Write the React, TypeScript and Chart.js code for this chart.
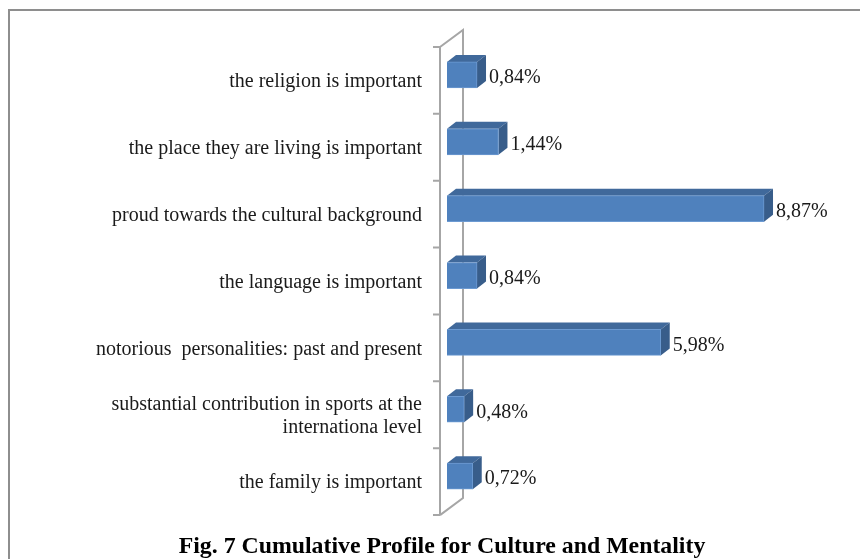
import React, { useEffect, useRef } from "react";
import { Chart, registerables } from "chart.js";

Chart.register(...registerables);

const categories: (string | string[])[] = [
  "the religion is important",
  "the place they are living is important",
  "proud towards the cultural background",
  "the language is important",
  "notorious  personalities: past and present",
  ["substantial contribution in sports at the", "internationa level"],
  "the family is important",
];
const values = [0.84, 1.44, 8.87, 0.84, 5.98, 0.48, 0.72];
const titleText = "Fig. 7 Cumulative Profile for Culture and Mentality";

const SERIF = '"Liberation Serif", "Times New Roman", serif';
const DX = 9;
const DY = 7;

const decorations = {
  id: "decorations",
  beforeDatasetsDraw(chart: any) {
    const { ctx, chartArea } = chart;
    ctx.save();
    // page frame
    ctx.strokeStyle = "#8e8e8e";
    ctx.lineWidth = 2;
    ctx.beginPath();
    ctx.moveTo(9, 559);
    ctx.lineTo(9, 10);
    ctx.lineTo(chart.width, 10);
    ctx.stroke();
    // 3D wall
    const fx = 440;
    const bx = 463;
    const top = chartArea.top + 5.5;
    const bottom = chartArea.bottom + 5.5;
    ctx.strokeStyle = "#a6a6a6";
    ctx.lineWidth = 2;
    ctx.beginPath();
    ctx.moveTo(fx, top);
    ctx.lineTo(fx, bottom);
    ctx.moveTo(fx, top);
    ctx.lineTo(bx, top - 17);
    ctx.lineTo(bx, bottom - 17);
    ctx.lineTo(fx, bottom);
    const n = categories.length;
    for (let i = 0; i <= n; i++) {
      const y = top + ((bottom - top) * i) / n;
      ctx.moveTo(fx - 7, y);
      ctx.lineTo(fx, y);
    }
    ctx.stroke();
    // bar depth faces
    const meta = chart.getDatasetMeta(0);
    meta.data.forEach((bar: any) => {
      const x0 = bar.base;
      const x1 = bar.x;
      const y0 = bar.y - bar.height / 2;
      const y1 = bar.y + bar.height / 2;
      ctx.fillStyle = "#40699b";
      ctx.beginPath();
      ctx.moveTo(x0, y0);
      ctx.lineTo(x0 + DX, y0 - DY);
      ctx.lineTo(x1 + DX, y0 - DY);
      ctx.lineTo(x1, y0);
      ctx.closePath();
      ctx.fill();
      ctx.fillStyle = "#385d8a";
      ctx.beginPath();
      ctx.moveTo(x1, y0);
      ctx.lineTo(x1 + DX, y0 - DY);
      ctx.lineTo(x1 + DX, y1 - DY);
      ctx.lineTo(x1, y1);
      ctx.closePath();
      ctx.fill();
    });
    ctx.restore();
  },
  afterDatasetsDraw(chart: any) {
    const { ctx } = chart;
    const meta = chart.getDatasetMeta(0);
    ctx.save();
    ctx.fillStyle = "#1a1a1a";
    ctx.font = `20px ${SERIF}`;
    ctx.textAlign = "left";
    ctx.textBaseline = "middle";
    meta.data.forEach((bar: any, i: number) => {
      const label = values[i].toFixed(2).replace(".", ",") + "%";
      ctx.fillText(label, bar.x + DX + 3, bar.y + 3);
    });
    ctx.restore();
  },
};

export default function App() {
  const ref = useRef<HTMLCanvasElement>(null);
  useEffect(() => {
    const chart = new Chart(ref.current!, {
      type: "bar",
      data: {
        labels: categories as any,
        datasets: [
          {
            data: values,
            backgroundColor: "#4f81bd",
            borderColor: "#6c9ad2",
            borderWidth: 1,
            barThickness: 26,
          },
        ],
      },
      options: {
        indexAxis: "y",
        responsive: false,
        animation: false,
        layout: { padding: { top: 41.5, right: 0, left: 0, bottom: 0 } },
        plugins: {
          legend: { display: false },
          tooltip: { enabled: false },
          title: {
            display: true,
            text: titleText,
            position: "bottom",
            color: "#000000",
            font: { family: SERIF, size: 23.8, weight: "bold", lineHeight: 1 },
            padding: { top: 25.6, bottom: 0 },
          },
        },
        scales: {
          x: { display: false, min: 0, max: 12.227 },
          y: {
            afterFit(scale: any) {
              scale.width = 447;
            },
            border: { display: false },
            grid: { display: false, drawTicks: false },
            ticks: {
              color: "#1a1a1a",
              font: { family: SERIF, size: 20, lineHeight: 1.15 },
              padding: 25,
              labelOffset: 7,
              autoSkip: false,
            },
          },
        },
      },
      plugins: [decorations],
    } as any);
    return () => chart.destroy();
  }, []);
  return (
    <div style={{ position: "absolute", left: 0, top: 0, width: 860, height: 559, overflow: "hidden", background: "#fff" }}>
      <canvas ref={ref} width={884} height={559} style={{ display: "block" }} />
    </div>
  );
}
